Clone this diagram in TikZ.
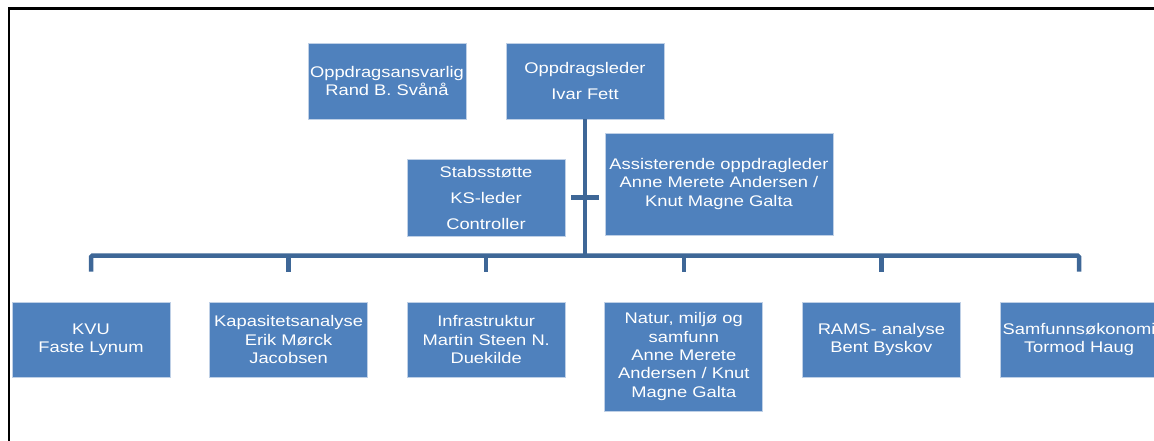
\documentclass[tikz,border=0pt]{standalone}
\usepackage{fontspec}
\setmainfont{Liberation Sans}[FakeStretch=1.19]
\usepackage{xcolor}
\usepackage{tikz}
\usetikzlibrary{shapes,arrows,positioning,calc}

\definecolor{boxblue}{HTML}{4F81BD}
\definecolor{boxedge}{HTML}{BFD0E6}
\definecolor{linkblue}{HTML}{3E6797}

\begin{document}
\begin{tikzpicture}[x=1pt, y=-1pt,
    orgbox/.style={rectangle, fill=boxblue, draw=boxedge, line width=0.7pt,
        text=white, align=center, inner sep=0pt,
        minimum width=158pt, minimum height=75pt,
        font=\fontsize{15.4}{18.4}\selectfont},
    link/.style={draw=linkblue, line width=4.5pt}]
    \useasboundingbox (0,0) rectangle (1154,441);

    % Frame (only top and left edges show)
    \draw[gray!60, line width=1pt] (10,9.8) -- (1154,9.8);
    \draw[line width=2.5pt] (9,441) -- (9,8.5) -- (1154,8.5);

    % Management
    \node[orgbox, minimum height=76pt] (ansvar) at (387,81) {Oppdragsansvarlig\\Rand B. Svånå};
    \node[orgbox, minimum height=76pt] (leder) at (585,81) {Oppdragsleder\\[7.6pt]Ivar Fett};

    % Staff
    \node[orgbox, minimum height=77pt] (stab) at (486,197.5) {Stabsstøtte\\[7.6pt]KS-leder\\[7.6pt]Controller};
    \node[orgbox, minimum width=228pt, minimum height=102pt] (assist) at (719,184)
        {Assisterende oppdragleder\\Anne Merete Andersen /\\Knut Magne Galta};

    % Subject areas
    \node[orgbox] (kvu) at (91,339.5) {KVU\\Faste Lynum};
    \node[orgbox] (kap) at (288.6,339.5) {Kapasitetsanalyse\\Erik Mørck\\Jacobsen};
    \node[orgbox] (infra) at (486.2,339.5) {Infrastruktur\\Martin Steen N.\\Duekilde};
    \node[orgbox, minimum height=109pt] (natur) at (683.8,356.5)
        {Natur, miljø og\\samfunn\\Anne Merete\\Andersen / Knut\\Magne Galta};
    \node[orgbox] (rams) at (881.4,339.5) {RAMS- analyse\\Bent Byskov};
    \node[orgbox] (samf) at (1079,339.5) {Samfunnsøkonomi\\Tormod Haug};

    % Connectors
    \coordinate (bar) at (585,255.5);
    \draw[link] (leder.south) -- (bar);
    \draw[link] ([xshift=-14pt]leder.south |- stab.east) -- ++(28,0);
    \draw[link, rounded corners=1.5pt] ([yshift=30pt]kvu.north) |- (bar) -| ([yshift=30pt]samf.north);
    \foreach \n in {kap,infra,natur,rams}
        \draw[link] ([yshift=30pt]\n.north) -- (\n.north |- bar);
\end{tikzpicture}
\end{document}
